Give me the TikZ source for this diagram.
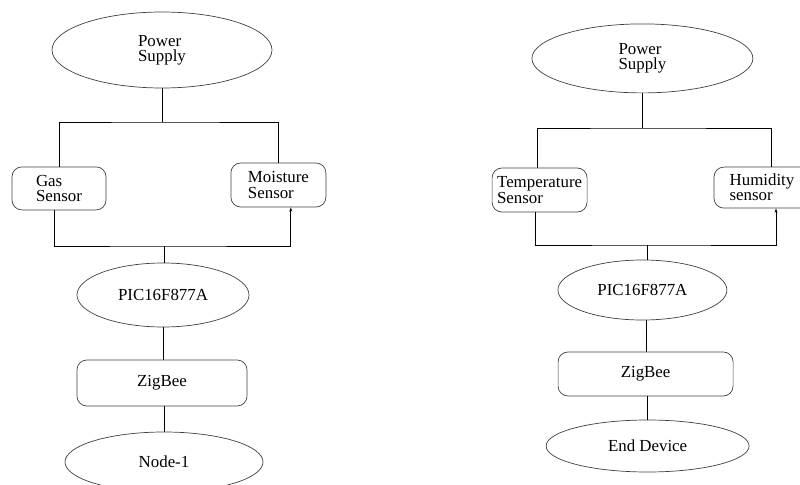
\documentclass[tikz,border=0pt]{standalone}
\usepackage{fontspec}
\setmainfont{Liberation Serif}
\usetikzlibrary{shapes.geometric}
\usetikzlibrary{arrows.meta}

\begin{document}
\begin{tikzpicture}[
    oval/.style={ellipse, draw=black!75, line width=0.5pt, inner sep=0pt},
    block/.style={rectangle, rounded corners=7pt, draw=black!75, line width=0.5pt, inner sep=0pt},
    wire/.style={line width=0.6pt},
    font=\fontsize{12}{10.8}\selectfont]
    \useasboundingbox (0,0) rectangle (20,-12.125);
    \clip (0,0) rectangle (20,-12.125);

    % left chain: sensor node
    \node[oval, minimum width=5.5cm, minimum height=1.9cm, align=left] (ps1) at (4.05,-1.25) {Power\\Supply};
    \node[block, minimum width=2.35cm, minimum height=1.075cm, align=left] (gas) at (1.475,-4.71) {Gas\\Sensor};
    \node[block, minimum width=2.375cm, minimum height=1.1cm, align=left] (moist) at (6.96,-4.625) {Moisture\\Sensor};
    \node[oval, minimum width=4.3cm, minimum height=1.6cm] (pic1) at (4.075,-7.375) {PIC16F877A};
    \node[block, minimum width=4.25cm, minimum height=1.15cm] (zig1) at (4.05,-9.575) {ZigBee};
    \node[oval, minimum width=4.95cm, minimum height=1.5cm] (node1) at (4.1,-11.55) {Node-1};
    \coordinate (t1) at (4.05,-3.05);
    \coordinate (b1) at (4.1,-6.15);

    \draw[wire] (ps1) -- (t1);
    \draw[wire] (gas.north) |- (t1) -| (moist.north);
    \draw[wire, -{Stealth[length=3pt,width=2pt]}] ([xshift=-0.125cm]gas.south) |- (b1) -| ([xshift=0.31cm]moist.south);
    \draw[wire] (b1) -- (b1 |- pic1.north);
    \draw[wire] (pic1.south) -- (pic1.south |- zig1.north);
    \draw[wire] ([xshift=0.07cm]zig1.south) -- ([xshift=0.07cm]zig1.south |- node1.north);

    % right chain: end device
    \node[oval, minimum width=5.525cm, minimum height=1.725cm, align=left] (ps2) at (16.06,-1.46) {Power\\Supply};
    \node[block, minimum width=2.375cm, minimum height=1.1cm, align=left] (temp) at (13.49,-4.75) {Temperature\\Sensor};
    \node[block, minimum width=2.4cm, minimum height=1.025cm, align=left] (humid) at (19.05,-4.69) {Humidity\\sensor};
    \node[oval, minimum width=4.225cm, minimum height=1.5cm] (pic2) at (16.06,-7.25) {PIC16F877A};
    \node[block, minimum width=4.375cm, minimum height=1.1cm] (zig2) at (16.14,-9.35) {ZigBee};
    \node[oval, minimum width=5.075cm, minimum height=1.3cm] (enddev) at (16.19,-11.15) {End Device};
    \coordinate (t2) at (16.06,-3.2);
    \coordinate (b2) at (16.175,-6.125);

    \draw[wire] (ps2) -- (t2);
    \draw[wire] ([xshift=-0.06cm]temp.north) |- (t2) -| ([xshift=0.225cm]humid.north);
    \draw[wire, -{Stealth[length=3pt,width=2pt]}] ([xshift=-0.11cm]temp.south) |- (b2) -| ([xshift=0.35cm]humid.south);
    \draw[wire] (b2) -- (b2 |- pic2.north);
    \draw[wire] ([xshift=0.1cm]pic2.south) -- ([xshift=0.1cm]pic2.south |- zig2.north);
    \draw[wire] ([xshift=0.05cm]zig2.south) -- ([xshift=0.05cm]zig2.south |- enddev.north);
\end{tikzpicture}
\end{document}
